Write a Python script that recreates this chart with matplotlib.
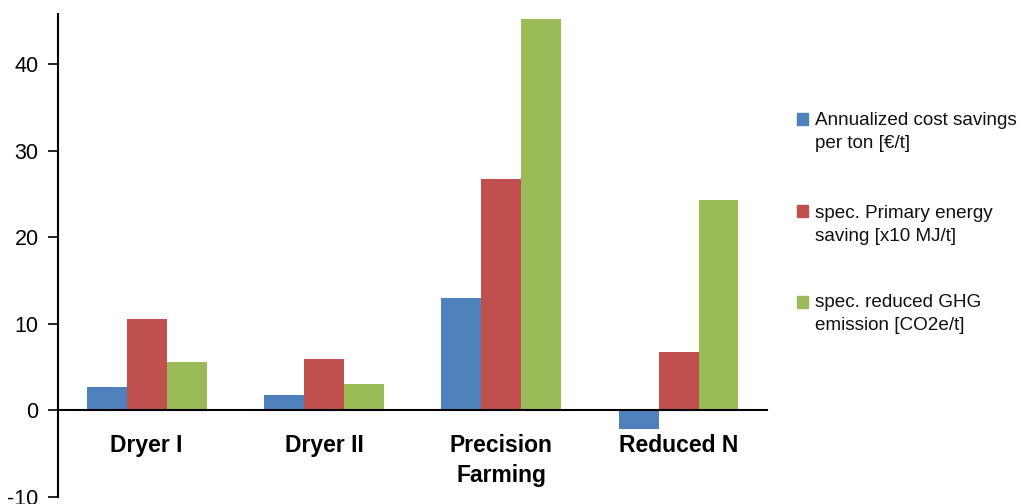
import numpy as np
import matplotlib
matplotlib.use("Agg")
import matplotlib.pyplot as plt
from matplotlib.patches import Rectangle

plt.rcParams['font.family'] = ['Liberation Sans', 'DejaVu Sans']
plt.rcParams['axes.unicode_minus'] = False

categories = ["Dryer I", "Dryer II", "Precision\nFarming", "Reduced N"]
cost_savings = [2.7, 1.8, 13.0, -2.1]
energy_saving = [10.6, 5.9, 26.7, 6.7]
ghg_reduced = [5.6, 3.0, 45.2, 24.3]
series_labels = ["Annualized cost savings\nper ton [€/t]",
                 "spec. Primary energy\nsaving [x10 MJ/t]",
                 "spec. reduced GHG\nemission [CO2e/t]"]
colors = ["#4F81BD", "#C0504D", "#9BBB59"]

fig = plt.figure(figsize=(10.23, 5.04), dpi=100)
ax = fig.add_axes([0.0567, 0.014, 0.6933, 0.958])

x = np.arange(len(categories))
w = 0.225
for i, vals in enumerate([cost_savings, energy_saving, ghg_reduced]):
    ax.bar(x + (i - 1) * w, vals, width=w, color=colors[i], zorder=2)

ax.set_xlim(-0.5, 3.5)
ax.set_ylim(-10, 45.8)
ax.set_yticks([-10, 0, 10, 20, 30, 40])
ax.tick_params(axis='y', direction='out', length=7, width=1.2, labelsize=15.5, pad=7)

ax.spines['top'].set_visible(False)
ax.spines['right'].set_visible(False)
ax.spines['left'].set_linewidth(1.5)
ax.spines['bottom'].set_position(('data', 0))
ax.spines['bottom'].set_linewidth(1.5)
ax.spines['bottom'].set_zorder(3)

ax.set_xticks(x)
ax.set_xticklabels(categories, fontsize=16.5, fontweight='bold', linespacing=1.4)
ax.tick_params(axis='x', length=0, pad=17)
for lbl in ax.get_xticklabels():
    lbl.set_verticalalignment('top')

# legend, marker aligned with first text line (pixel rows from top)
text_top = [112, 205, 294]
square_top = [113, 205, 296]
for col, lab, ty, sy in zip(colors, series_labels, text_top, square_top):
    fig.patches.append(Rectangle((0.779, 1 - (sy + 11.5) / 504), 0.0113, 11.5 / 504,
                                 transform=fig.transFigure, color=col))
    fig.text(0.797, 1 - ty / 504, lab, fontsize=13.6, va='top', ha='left',
             color='#111111', linespacing=1.45)

fig.savefig("out.png", dpi=100)
